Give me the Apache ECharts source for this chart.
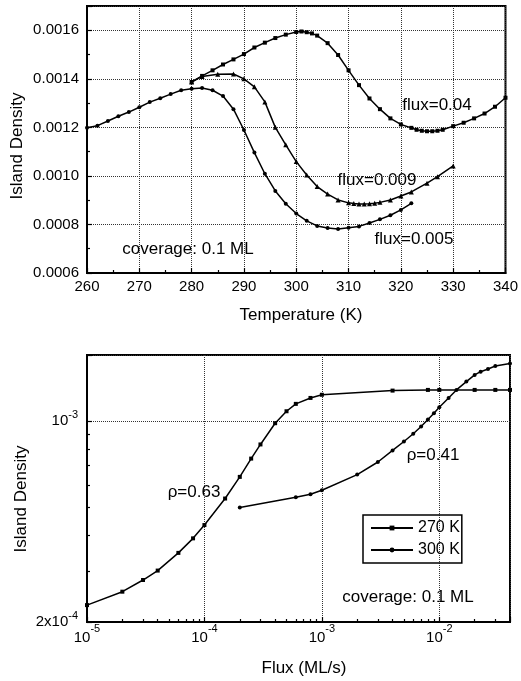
<!DOCTYPE html>
<html>
<head>
<meta charset="utf-8">
<script src="https://cdn.jsdelivr.net/npm/echarts@6/dist/echarts.min.js"></script>
<style>
html, body { margin: 0; padding: 0; background: #fff; }
#main { width: 521px; height: 681px; }
</style>
</head>
<body>
<div id="main"></div>
<script>
// top panel: island density vs temperature, three fluxes
const tempLow = [260, 262, 264, 266, 268, 270, 272, 274, 276, 278, 280, 282, 284, 286, 288, 290,
  292, 294, 296, 298, 300, 302, 304, 306, 308, 310, 312, 314, 316, 318, 320, 322];
const densLow = [0.001198, 0.001207, 0.001226, 0.001246, 0.001263, 0.001283, 0.001304, 0.00132,
  0.001337, 0.001353, 0.001359, 0.001362, 0.001353, 0.001329, 0.001275, 0.001189,
  0.001096, 0.001009, 0.000938, 0.000885, 0.000845, 0.000815, 0.000794, 0.000785,
  0.000781, 0.000786, 0.000792, 0.000806, 0.000821, 0.000838, 0.00086, 0.000887];

const tempMid = [280, 282, 285, 288, 290, 292, 294, 296, 298, 300, 302, 304, 306, 308, 310,
  311, 312, 313, 314, 315, 316, 318, 320, 322, 325, 327, 330];
const densMid = [0.001387, 0.00141, 0.001419, 0.00142, 0.0014, 0.001367, 0.001305, 0.0012,
  0.001128, 0.001059, 0.001004, 0.000956, 0.000925, 0.000901, 0.000889,
  0.000886, 0.000884, 0.000884, 0.000885, 0.000887, 0.000891, 0.000901, 0.000917,
  0.000934, 0.00097, 0.000997, 0.001041];

const tempHigh = [280, 282, 284, 286, 288, 290, 292, 294, 296, 298, 300, 301, 302, 303, 304,
  306, 308, 310, 312, 314, 316, 318, 320, 322, 323, 324, 325, 326, 327, 328,
  330, 332, 334, 336, 338, 340];
const densHigh = [0.001387, 0.001412, 0.001435, 0.001459, 0.00148, 0.001502, 0.001529, 0.001549,
  0.001568, 0.001582, 0.001593, 0.001595, 0.001592, 0.001587, 0.001578,
  0.001547, 0.001498, 0.001435, 0.001374, 0.001319, 0.001275, 0.001237, 0.001212,
  0.001198, 0.00119, 0.001186, 0.001184, 0.001184, 0.001186, 0.00119,
  0.001205, 0.001219, 0.001237, 0.001257, 0.001285, 0.001322];

// bottom panel: island density vs flux, two temperatures
const flux270 = [1e-5, 2e-5, 3e-5, 4e-5, 6e-5, 8e-5, 1e-4, 1.5e-4, 2e-4, 2.5e-4, 3e-4, 4e-4,
  5e-4, 6e-4, 8e-4, 1e-3, 4e-3, 8e-3, 1e-2, 2e-2, 3e-2, 4e-2];
const dens270 = [2.29e-4, 2.55e-4, 2.8e-4, 3.02e-4, 3.48e-4, 3.91e-4, 4.35e-4, 5.38e-4, 6.4e-4,
  7.41e-4, 8.3e-4, 9.84e-4, 1.083e-3, 1.149e-3, 1.205e-3, 1.236e-3, 1.278e-3,
  1.285e-3, 1.285e-3, 1.285e-3, 1.285e-3, 1.285e-3];

const flux300 = [2e-4, 6e-4, 8e-4, 1e-3, 2e-3, 3e-3, 4e-3, 5e-3, 6e-3, 7e-3, 8e-3, 9e-3, 1e-2,
  1.2e-2, 1.4e-2, 1.7e-2, 2e-2, 2.25e-2, 2.6e-2, 3e-2, 4e-2];
const dens300 = [5.01e-4, 5.44e-4, 5.57e-4, 5.75e-4, 6.52e-4, 7.21e-4, 7.91e-4, 8.5e-4, 9.04e-4,
  9.59e-4, 1.014e-3, 1.066e-3, 1.119e-3, 1.205e-3, 1.285e-3, 1.374e-3, 1.449e-3,
  1.487e-3, 1.52e-3, 1.556e-3, 1.589e-3];

const FONT = 'Liberation Sans';

function zip(xs, ys) {
  return xs.map((x, i) => [x, ys[i]]);
}

// 10^n style tick labels
function powLabel(value) {
  const e = Math.round(Math.log10(value));
  const m = value / Math.pow(10, e);
  if (Math.abs(m - 1) < 1e-6) return '{b|10}{s|' + e + '}';
  return '{b|' + Math.round(m) + 'x10}{s|' + e + '}';
}

function lineSeries(name, data, symbol, size, xi) {
  return {
    name: name,
    type: 'line',
    xAxisIndex: xi,
    yAxisIndex: xi,
    data: data,
    symbol: symbol,
    symbolSize: size,
    showAllSymbol: true,
    animation: false,
    lineStyle: { color: '#000', width: 1.5 },
    itemStyle: { color: '#000', borderWidth: 0 }
  };
}

const axisLine = { show: true, onZero: false, lineStyle: { color: '#000', width: 2 } };
const splitLine = { show: true, lineStyle: { color: '#333', type: [1, 1], width: 1 } };
const tick = { show: true, inside: true, length: 5, lineStyle: { color: '#000', width: 1.2 } };

function textItem(text, x, y, size, rot) {
  return {
    type: 'text',
    x: x,
    y: y,
    rotation: rot || 0,
    style: {
      text: text,
      fill: '#000',
      fontSize: size,
      fontFamily: FONT,
      textAlign: 'center',
      textVerticalAlign: 'middle',
      verticalAlign: 'middle'
    }
  };
}

const chart = echarts.init(document.getElementById('main'));

const option = {
  backgroundColor: '#fff',
  animation: false,
  grid: [
    { left: 87, top: 6, width: 423, height: 267, show: true, borderColor: '#000', borderWidth: 2 },
    { left: 87, top: 355, width: 423, height: 267, show: true, borderColor: '#000', borderWidth: 2 }
  ],
  xAxis: [
    {
      type: 'value', gridIndex: 0, min: 260, max: 340, interval: 10,
      axisLine: axisLine, axisTick: tick, splitLine: splitLine,
      minorTick: { show: true, splitNumber: 2, length: 3, lineStyle: { color: '#000', width: 1.2 } },
      axisLabel: { color: '#000', fontSize: 15, fontFamily: FONT, margin: 6 }
    },
    {
      type: 'log', gridIndex: 1, logBase: 10, min: 1e-5, max: 0.04,
      axisLine: axisLine, axisTick: tick, splitLine: splitLine,
      minorTick: { show: true, splitNumber: 9, length: 3, lineStyle: { color: '#000', width: 1.2 } },
      axisLabel: {
        color: '#000', fontFamily: FONT, margin: 1, showMaxLabel: false,
        formatter: powLabel,
        rich: {
          b: { fontSize: 15, fontFamily: FONT, color: '#000' },
          s: { fontSize: 11, fontFamily: FONT, color: '#000', padding: [0, 0, 18, 0] }
        }
      }
    }
  ],
  yAxis: [
    {
      type: 'value', gridIndex: 0, min: 0.0006, max: 0.0017, interval: 0.0002,
      axisLine: axisLine, axisTick: tick, splitLine: splitLine,
      minorTick: { show: true, splitNumber: 2, length: 3, lineStyle: { color: '#000', width: 1.2 } },
      axisLabel: {
        color: '#000', fontSize: 15, fontFamily: FONT, margin: 8, showMaxLabel: false,
        formatter: (v) => v.toFixed(4)
      }
    },
    {
      type: 'log', gridIndex: 1, logBase: 10, min: 2e-4, max: 1.7e-3,
      axisLine: axisLine, axisTick: tick, splitLine: splitLine,
      minorTick: { show: true, splitNumber: 9, length: 3, lineStyle: { color: '#000', width: 1.2 } },
      axisLabel: {
        color: '#000', fontFamily: FONT, margin: 9, showMaxLabel: false,
        formatter: powLabel,
        rich: {
          b: { fontSize: 15, fontFamily: FONT, color: '#000' },
          s: { fontSize: 11, fontFamily: FONT, color: '#000', padding: [0, 0, 12, 0] }
        }
      }
    }
  ],
  legend: {
    data: ['270 K', '300 K'],
    orient: 'vertical',
    left: 363,
    top: 515,
    padding: [5, 2, 5, 7],
    itemWidth: 42,
    itemHeight: 6,
    itemGap: 6,
    borderColor: '#000',
    borderWidth: 1.5,
    textStyle: { color: '#000', fontSize: 16, fontFamily: FONT }
  },
  graphic: [
    textItem('Island Density', 17, 146, 17, Math.PI / 2),
    textItem('Temperature (K)', 301, 315, 17),
    textItem('flux=0.04', 437, 105, 17),
    textItem('flux=0.009', 377, 180, 17),
    textItem('flux=0.005', 414, 239, 17),
    textItem('coverage: 0.1 ML', 188, 249, 17),
    textItem('Island Density', 21, 499, 17, Math.PI / 2),
    textItem('Flux (ML/s)', 304, 668, 17),
    textItem('ρ=0.63', 194, 492, 17),
    textItem('ρ=0.41', 433, 455, 17),
    textItem('coverage: 0.1 ML', 408, 597, 17)
  ],
  series: [
    lineSeries('flux=0.005', zip(tempLow, densLow), 'circle', 4, 0),
    lineSeries('flux=0.009', zip(tempMid, densMid), 'triangle', 5, 0),
    lineSeries('flux=0.04', zip(tempHigh, densHigh), 'rect', 4, 0),
    lineSeries('270 K', zip(flux270, dens270), 'rect', 4, 1),
    lineSeries('300 K', zip(flux300, dens300), 'circle', 4, 1)
  ]
};

chart.setOption(option);
</script>
</body>
</html>
